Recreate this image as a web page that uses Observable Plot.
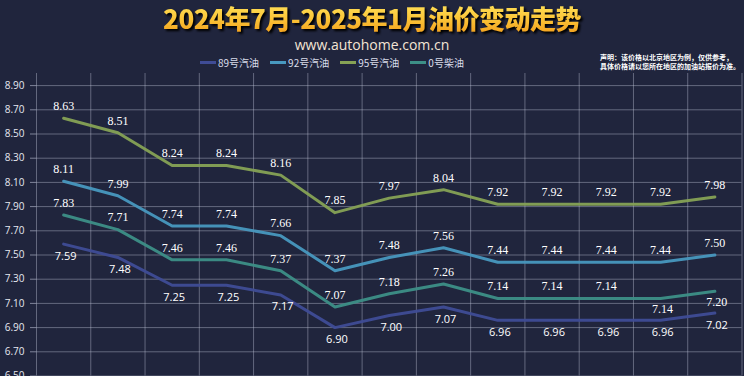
<!DOCTYPE html>
<html><head><meta charset="utf-8">
<script src="https://cdn.jsdelivr.net/npm/d3@7"></script>
<script src="https://cdn.jsdelivr.net/npm/@observablehq/plot@0.6"></script>
<style>
html,body{margin:0;padding:0;overflow:hidden;background:#20253d;width:744px;height:376px}
#head{position:relative;height:73px;width:744px}
#title{position:absolute;left:0;width:744px;top:2px;height:31px;line-height:31px;text-align:center;white-space:nowrap}
#title span{display:inline-block;line-height:31px;font:900 26px/31px "Noto Sans CJK SC";letter-spacing:-0.5px;background:linear-gradient(180deg,#ffe45c 0%,#fbc437 55%,#f3a21f 100%);-webkit-background-clip:text;background-clip:text;color:transparent;filter:drop-shadow(2px 2px 1px #000)}
#sub{position:absolute;left:0;width:744px;top:36px;line-height:17px;text-align:center;font:14px/17px "Open Sans";color:#f3e4d4;white-space:nowrap}
#legend{position:absolute;left:200px;top:55px;line-height:14px;display:flex;gap:11px;font:10px "Noto Sans CJK SC";color:#d8dcea;white-space:nowrap}
#legend span.it{display:flex;align-items:center;gap:2px}
#legend span.sw{display:inline-block;width:16px;height:3px}
#note{position:absolute;left:600px;top:53px;font:bold 7px "Noto Sans CJK SC";line-height:9px;color:#ffffff;white-space:nowrap}
#chart svg{display:block}
</style></head>
<body>
<div id="head">
  <div id="title"><span>2024年7月-2025年1月油价变动走势</span></div>
  <div id="sub">www.autohome.com.cn</div>
  <div id="legend"></div>
  <div id="note">声明：该价格以北京地区为例，仅供参考，<br>具体价格请以您所在地区的加油站报价为准。</div>
</div>
<div id="chart"></div>
<script>
// price adjustment windows (x labels are not visible in the picture)
const dates = ["2024-07-03","2024-07-17","2024-07-31","2024-08-14","2024-08-28","2024-09-11","2024-09-25","2024-10-12","2024-10-25","2024-11-08","2024-11-22","2024-12-06","2025-01-03"];
const seriesNames = ["89号汽油","92号汽油","95号汽油","0号柴油"];
const seriesColors = ["#3f4c96","#4898bf","#86a255","#3d8f87"];
const v89 = [7.59,7.48,7.25,7.25,7.17,6.90,7.00,7.07,6.96,6.96,6.96,6.96,7.02];
const v92 = [8.11,7.99,7.74,7.74,7.66,7.37,7.48,7.56,7.44,7.44,7.44,7.44,7.50];
const v95 = [8.63,8.51,8.24,8.24,8.16,7.85,7.97,8.04,7.92,7.92,7.92,7.92,7.98];
const v0  = [7.83,7.71,7.46,7.46,7.37,7.07,7.18,7.26,7.14,7.14,7.14,7.14,7.20];
const yTicks = [6.5,6.7,6.9,7.1,7.3,7.5,7.7,7.9,8.1,8.3,8.5,8.7,8.9];

const values = [v89, v92, v95, v0];
const rows = [];
values.forEach((arr, s) => arr.forEach((v, i) => rows.push({series: seriesNames[s], i, date: dates[i], v})));

// legend
const lg = document.getElementById("legend");
seriesNames.forEach((n, s) => {
  const it = document.createElement("span"); it.className = "it";
  it.innerHTML = `<span class="sw" style="background:${seriesColors[s]}"></span>${n}`;
  lg.appendChild(it);
});

const xEdges = d3.range(dates.length + 1).map(i => i - 0.5);
const gridStroke = "#c0c5d8";
const isBelow = d => d.series === "89号汽油" || (d.series === "0号柴油" && d.i >= 11);
const fmt = d3.format(".2f");
const serif = "'Liberation Serif', 'DejaVu Serif', serif";

const marks = [
  Plot.gridX(xEdges, {stroke: gridStroke, strokeOpacity: 0.42}),
  Plot.gridY(yTicks, {stroke: gridStroke, strokeOpacity: 0.42}),
  Plot.axisY(yTicks, {label: null, tickFormat: fmt, tickSize: 6, tickPadding: 6, stroke: gridStroke, strokeOpacity: 0.6, fill: "#e6e8f0", fontSize: 10, fontFamily: "Open Sans"})
];
seriesNames.forEach((n, s) => {
  marks.push(Plot.line(rows.filter(d => d.series === n), {x: "i", y: "v", stroke: seriesColors[s], strokeWidth: 3, strokeOpacity: 0.95}));
});
// labels above (serif), labels below for diesel (serif), labels below for 89 (sans)
marks.push(Plot.text(rows.filter(d => !isBelow(d)), {x: "i", y: "v", text: d => fmt(d.v), dy: -12, fill: "#ffffff", fontSize: 12, fontFamily: serif}));
marks.push(Plot.text(rows.filter(d => d.series === "0号柴油" && isBelow(d)), {x: "i", y: "v", text: d => fmt(d.v), dy: 11, dx: 2, fill: "#ffffff", fontSize: 12, fontFamily: serif}));
marks.push(Plot.text(rows.filter(d => d.series === "89号汽油"), {x: "i", y: "v", text: d => fmt(d.v), dy: 12, dx: 2, fill: "#ffffff", fontSize: 11, fontFamily: "Open Sans"}));

const chart = Plot.plot({
  width: 744, height: 310,
  marginLeft: 36, marginRight: 2.5, marginTop: 0, marginBottom: 7.5,
  style: {background: "transparent", color: "#e6e8f0", fontSize: "10px"},
  x: {type: "linear", domain: [-0.5, dates.length - 0.5], axis: null},
  y: {domain: [6.5, 9.0], axis: null},
  marks
});
document.getElementById("chart").appendChild(chart);
</script>
</body></html>
